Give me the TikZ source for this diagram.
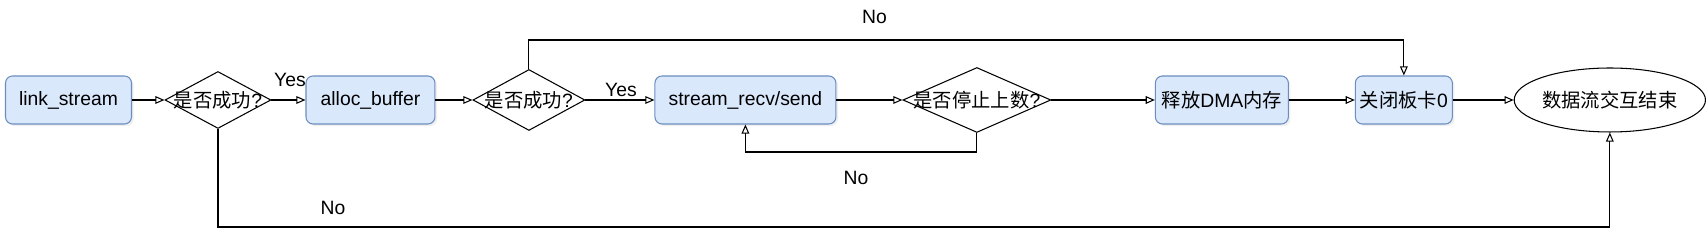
\documentclass[tikz,border=0pt]{standalone}
\usepackage{fontspec}
\setmainfont{Liberation Sans}
\newfontfamily\zhfont{Noto Sans CJK SC}
\newcommand{\zh}[1]{{\zhfont #1}}
\usepackage{tikz}
\usetikzlibrary{arrows.meta, shapes.geometric, shadows}
\definecolor{boxfill}{HTML}{DAE8FC}
\definecolor{boxline}{HTML}{6C8EBF}

\begin{document}
\begin{tikzpicture}[x=0.02cm, y=-0.02cm,
        >={Triangle[open, length=5.2pt, width=4.4pt]},
        txt/.style={font=\fontsize{11}{13}\selectfont},
        box/.style={txt, draw=boxline, fill=boxfill, rounded corners=4pt, line width=0.6pt,
                    inner sep=1pt, minimum height=0.96cm,
                    drop shadow={shadow xshift=1.2pt, shadow yshift=-1.2pt, opacity=0.12}},
        dec/.style={txt, diamond, draw, fill=white, line width=0.6pt, inner sep=0pt},
        term/.style={txt, ellipse, draw, fill=white, line width=0.6pt, inner sep=0pt,
                     minimum width=3.36cm, minimum height=1.28cm},
        arr/.style={->, line width=0.6pt},
        lbl/.style={txt, inner sep=0pt},
    ]

    \fill[white] (0,0) rectangle (1706,250);

    % ---- Main row ----
    \node[box, minimum width=2.52cm] (link) at (68.5, 100) {link\_stream};
    \node[dec, minimum width=2.12cm, minimum height=1.14cm] (chk1) at (218, 100)
        {\makebox[0pt]{\zh{是否成功}?}};
    \node[box, minimum width=2.58cm] (alloc) at (370.5, 100) {alloc\_buffer};
    \node[dec, minimum width=2.24cm, minimum height=1.22cm] (chk2) at (529, 100)
        {\makebox[0pt]{\zh{是否成功}?}};
    \node[box, minimum width=3.62cm] (stream) at (745.5, 100) {stream\_recv/send};
    \node[dec, minimum width=2.96cm, minimum height=1.30cm] (chk3) at (977, 100)
        {\makebox[0pt]{\zh{是否停止上数}?}};
    \node[box, minimum width=2.66cm] (dma) at (1222, 100) {\zh{释放}DMA\zh{内存}};
    \node[box, minimum width=1.94cm] (close) at (1404, 100) {\zh{关闭板卡}0};
    \node[term] (done) at (1610, 100) {\zh{数据流交互结束}};

    % ---- Bend heights ----
    \coordinate (topy) at (0, 40);
    \coordinate (loopy) at (0, 152);
    \coordinate (boty) at (0, 227);

    % ---- Arrows ----
    \draw[arr] (link) -- (chk1);
    \draw[arr] (chk1) -- (alloc);
    \draw[arr] (alloc) -- (chk2);
    \draw[arr] (chk2) -- (stream);
    \draw[arr] (stream) -- (chk3);
    \draw[arr] (chk3) -- (dma);
    \draw[arr] (dma) -- (close);
    \draw[arr] (close) -- (done);
    \draw[arr] (chk2.north) -- (chk2.north |- topy) -| (close.north);
    \draw[arr] (chk3.south) -- (chk3.south |- loopy) -| (stream.south);
    \draw[arr] (chk1.south) -- (chk1.south |- boty) -| (done.south);

    % ---- Branch labels ----
    \node[lbl] (yes1) at (290, 80) {Yes};
    \node[lbl] (yes2) at (621, 90) {Yes};
    \node[lbl] (notop) at (874.5, 17) {No};
    \node[lbl] (noloop) at (856, 177.5) {No};
    \node[lbl] (nobot) at (333, 207.5) {No};

\end{tikzpicture}
\end{document}
